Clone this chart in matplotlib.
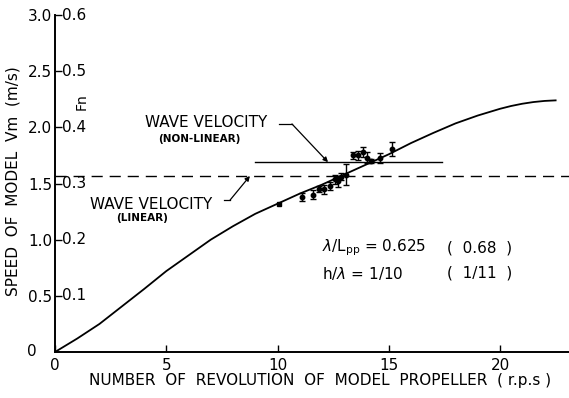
import matplotlib
matplotlib.use("Agg")
import matplotlib.pyplot as plt

# fitted speed curve Vm vs propeller revolutions
curve_n = [0, 0.5, 1, 1.5, 2, 3, 4, 5, 6, 7, 8, 9, 10, 11, 12, 13, 14, 15, 16, 17, 18, 19,
           19.5, 20, 20.5, 21, 21.5, 22, 22.5]
curve_v = [0, 0.06, 0.12, 0.185, 0.25, 0.405, 0.56, 0.72, 0.86, 1.00, 1.12, 1.23, 1.32, 1.41,
           1.49, 1.58, 1.67, 1.76, 1.86, 1.95, 2.035, 2.105, 2.135, 2.165, 2.19, 2.21, 2.225,
           2.235, 2.24]

# measured points with scatter
meas_n = [11.1, 11.6, 11.87, 12.1, 12.36, 12.6, 12.73, 12.85, 13.1,
          13.38, 13.63, 13.86, 14.04, 14.2, 14.6, 15.13]
meas_v = [1.38, 1.40, 1.45, 1.45, 1.48, 1.54, 1.52, 1.56, 1.58,
          1.75, 1.75, 1.78, 1.73, 1.70, 1.73, 1.81]
meas_err = [0.039, 0.04, 0.025, 0.04, 0.037, 0.04, 0.05, 0.03, 0.09,
            0.033, 0.037, 0.045, 0.05, 0.02, 0.045, 0.062]
single_n, single_v = 10.08, 1.32

wave_linear = 1.567
wave_nonlinear = 1.69
nonlinear_range = (9.0, 17.4)

speed_ticks = [0.5, 1.0, 1.5, 2.0, 2.5, 3.0]
speed_labels = ["0.5", "1.0", "1.5", "2.0", "2.5", "3.0"]
fn_labels = ["0.1", "0.2", "0.3", "0.4", "0.5", "0.6"]
rev_ticks = [0, 5, 10, 15, 20]

fs = 11
fig = plt.figure(figsize=(5.69, 3.98), dpi=100)
ax = fig.add_axes([55 / 569, 46 / 398, 514 / 569, 337 / 398])
ax.set_xlim(0, 514 / 22.25)
ax.set_ylim(0, 3.0)

for s in ["top", "right"]:
    ax.spines[s].set_visible(False)
for s in ["left", "bottom"]:
    ax.spines[s].set_linewidth(1.4)

ax.set_xticks(rev_ticks)
ax.set_xticklabels([str(t) for t in rev_ticks], fontsize=fs)
ax.set_yticks(speed_ticks)
ax.set_yticklabels(speed_labels, fontsize=fs)
ax.tick_params(axis="x", direction="in", length=5, width=1, pad=4)
ax.tick_params(axis="y", direction="in", length=5, width=1, pad=2)
ax.text(-1.03, 0, "0", fontsize=fs, ha="center", va="center")

# Froude number scale drawn just inside the axis
for v, lab in zip(speed_ticks, fn_labels):
    ax.text(0.3, v, lab, fontsize=fs, ha="left", va="center")
ax.text(1.21, 2.23, "Fn", fontsize=10, rotation=90, ha="center", va="center")

ax.plot(curve_n, curve_v, color="black", lw=1.3)
ax.axhline(wave_linear, color="black", lw=1.0, dashes=(8, 5))
ax.plot(nonlinear_range, [wave_nonlinear] * 2, color="black", lw=1.0)

ax.errorbar(meas_n, meas_v, yerr=meas_err, fmt="o", color="black", ms=3.2,
            elinewidth=1.0, capsize=2, capthick=1.0)
ax.plot([single_n], [single_v], "s", color="black", ms=3.5)

# labels for the two wave velocities
ax.text(4.04, 2.04, "WAVE VELOCITY", fontsize=fs, ha="left", va="center")
ax.text(6.47, 1.90, "(NON-LINEAR)", fontsize=7.5, fontweight="bold", ha="center", va="center")
ax.plot([10.07, 10.65], [2.03, 2.03], color="black", lw=0.9)
ax.annotate("", xy=(12.27, wave_nonlinear), xytext=(10.65, 2.03),
            arrowprops=dict(arrowstyle="-|>", color="black", lw=0.9,
                            mutation_scale=7, shrinkA=0, shrinkB=0))

ax.text(1.57, 1.31, "WAVE VELOCITY", fontsize=fs, ha="left", va="center")
ax.text(3.91, 1.19, "(LINEAR)", fontsize=7.5, fontweight="bold", ha="center", va="center")
ax.plot([7.6, 7.87], [1.353, 1.353], color="black", lw=0.9)
ax.annotate("", xy=(8.76, wave_linear), xytext=(7.87, 1.353),
            arrowprops=dict(arrowstyle="-|>", color="black", lw=0.9,
                            mutation_scale=7, shrinkA=0, shrinkB=0))

ax.text(12.0, 0.926, r"$\lambda$/L$_{\mathrm{pp}}$ = 0.625", fontsize=fs, ha="left", va="center")
ax.text(17.6, 0.926, "(  0.68  )", fontsize=fs, ha="left", va="center")
ax.text(12.0, 0.70, r"h/$\lambda$ = 1/10", fontsize=fs, ha="left", va="center")
ax.text(17.6, 0.70, "(  1/11  )", fontsize=fs, ha="left", va="center")

fig.text(13 / 569, 1 - 181 / 398, "SPEED  OF  MODEL  Vm  (m/s)", fontsize=fs,
         rotation=90, ha="center", va="center")
fig.text(320 / 569, 1 - 381 / 398, "NUMBER  OF  REVOLUTION  OF  MODEL  PROPELLER  ( r.p.s )",
         fontsize=fs, ha="center", va="center")

fig.savefig("out.png", dpi=100)
